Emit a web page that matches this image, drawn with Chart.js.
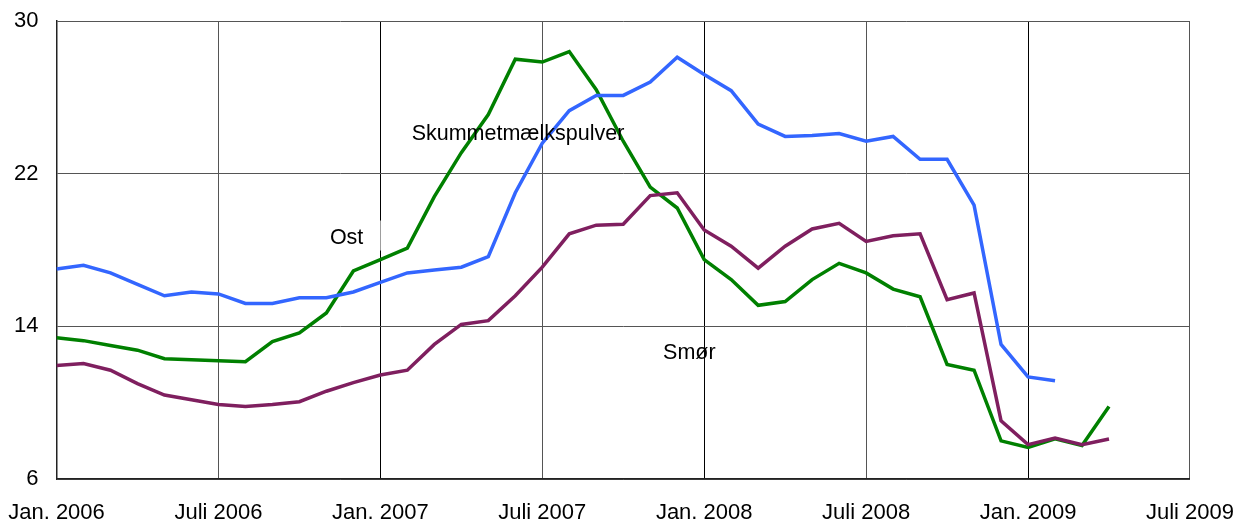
<!DOCTYPE html>
<html>
<head>
<meta charset="utf-8">
<script src="https://cdn.jsdelivr.net/npm/chart.js@4"></script>
<style>
  html, body { margin: 0; padding: 0; background: #fff; }
  #wrap { width: 1234px; height: 521px; }
</style>
</head>
<body>
<div id="wrap"><canvas id="chart"></canvas></div>
<script>
// months since Jan. 2006, one value per month
const xTickLabels = ['Jan. 2006', 'Juli 2006', 'Jan. 2007', 'Juli 2007', 'Jan. 2008', 'Juli 2008', 'Jan. 2009', 'Juli 2009'];

const ost = [17.0, 17.2, 16.8, 16.2, 15.6, 15.8, 15.7, 15.2, 15.2, 15.5, 15.5, 15.8,
             16.3, 16.8, 16.95, 17.1, 17.65, 21.0, 23.6, 25.3, 26.1, 26.1, 26.8, 28.1,
             27.2, 26.35, 24.6, 23.95, 24.0, 24.1, 23.7, 23.95, 22.75, 22.75, 20.35, 13.05,
             11.35, 11.15];

const skummetmaelk = [13.4, 13.25, 13.0, 12.75, 12.3, 12.25, 12.2, 12.15, 13.2, 13.65, 14.7, 16.9,
                      17.5, 18.1, 20.8, 23.1, 25.1, 28.0, 27.85, 28.4, 26.4, 23.7, 21.3, 20.2,
                      17.5, 16.45, 15.1, 15.3, 16.45, 17.3, 16.8, 15.95, 15.55, 12.0, 11.7, 8.0,
                      7.65, 8.1, 7.75, 9.8];

const smoer = [11.95, 12.05, 11.7, 11.0, 10.4, 10.15, 9.9, 9.8, 9.9, 10.05, 10.6, 11.05,
               11.45, 11.7, 13.05, 14.1, 14.3, 15.6, 17.1, 18.85, 19.3, 19.35, 20.85, 21.0,
               19.05, 18.2, 17.05, 18.2, 19.1, 19.4, 18.45, 18.75, 18.85, 15.4, 15.75, 9.05,
               7.8, 8.15, 7.8, 8.1];

// text labels placed in data coordinates: [text, month, value]
const seriesLabels = [
    ['Ost', 10.75, 18.6],
    ['Skummetmælkspulver', 17.1, 24.1],
    ['Smør', 23.45, 12.6]
];

function toPoints(values) {
    return values.map(function (v, i) { return { x: i, y: v }; });
}

const labelPlugin = {
    id: 'seriesLabels',
    beforeDatasetsDraw: function (chart) {
        // white box behind "Ost" that breaks the gridline
        const ctx = chart.ctx;
        const xs = chart.scales.x, ys = chart.scales.y;
        ctx.save();
        ctx.fillStyle = '#fff';
        const px = xs.getPixelForValue(seriesLabels[0][1]);
        const py = ys.getPixelForValue(seriesLabels[0][2]);
        ctx.fillRect(px - 22, py - 18, 56, 30);
        ctx.restore();
    },
    afterDatasetsDraw: function (chart) {
        const ctx = chart.ctx;
        const xs = chart.scales.x, ys = chart.scales.y;
        ctx.save();
        ctx.font = '21.5px "Liberation Sans", Arial, sans-serif';
        ctx.fillStyle = '#000';
        ctx.textAlign = 'center';
        ctx.textBaseline = 'middle';
        seriesLabels.forEach(function (l) {
            ctx.fillText(l[0], xs.getPixelForValue(l[1]), ys.getPixelForValue(l[2]));
        });
        ctx.restore();
    }
};

Chart.defaults.font.family = '"Liberation Sans", Arial, sans-serif';
Chart.defaults.font.size = 22;
Chart.defaults.color = '#000';

new Chart(document.getElementById('chart'), {
    type: 'line',
    data: {
        datasets: [
            { label: 'Smør', data: toPoints(smoer), borderColor: '#7f1f5f', borderWidth: 3.5 },
            { label: 'Ost', data: toPoints(ost), borderColor: '#3366ff', borderWidth: 3.5 },
            { label: 'Skummetmælkspulver', data: toPoints(skummetmaelk), borderColor: '#008000', borderWidth: 3.5 }
        ]
    },
    options: {
        responsive: true,
        maintainAspectRatio: false,
        animation: false,
        elements: { point: { radius: 0 }, line: { tension: 0, borderCapStyle: 'butt', borderJoinStyle: 'miter' } },
        layout: { padding: { left: 0, right: 44, top: 21, bottom: 0 } },
        plugins: { legend: { display: false }, tooltip: { enabled: false } },
        scales: {
            x: {
                type: 'linear',
                min: 0,
                max: 42,
                afterFit: function (scale) { scale.height = 42; },
                ticks: {
                    stepSize: 6,
                    padding: 0,
                    maxRotation: 0,
                    autoSkip: false,
                    callback: function (value) { return xTickLabels[value / 6]; }
                },
                grid: {
                    drawTicks: true,
                    tickLength: 21,
                    tickColor: 'rgba(0,0,0,0)',
                    lineWidth: 1,
                    color: function (c) { return (c.tick && c.tick.value % 12 === 0) ? '#000' : '#555'; }
                },
                border: { color: '#222', width: 1.5 }
            },
            y: {
                min: 6,
                max: 30,
                afterFit: function (scale) { scale.width = 56.5; },
                ticks: { stepSize: 8, padding: 0 },
                grid: { drawTicks: true, tickLength: 18, tickColor: 'rgba(0,0,0,0)', lineWidth: 1, color: '#555' },
                border: { color: '#222', width: 1.5 }
            }
        }
    },
    plugins: [labelPlugin]
});
</script>
</body>
</html>
